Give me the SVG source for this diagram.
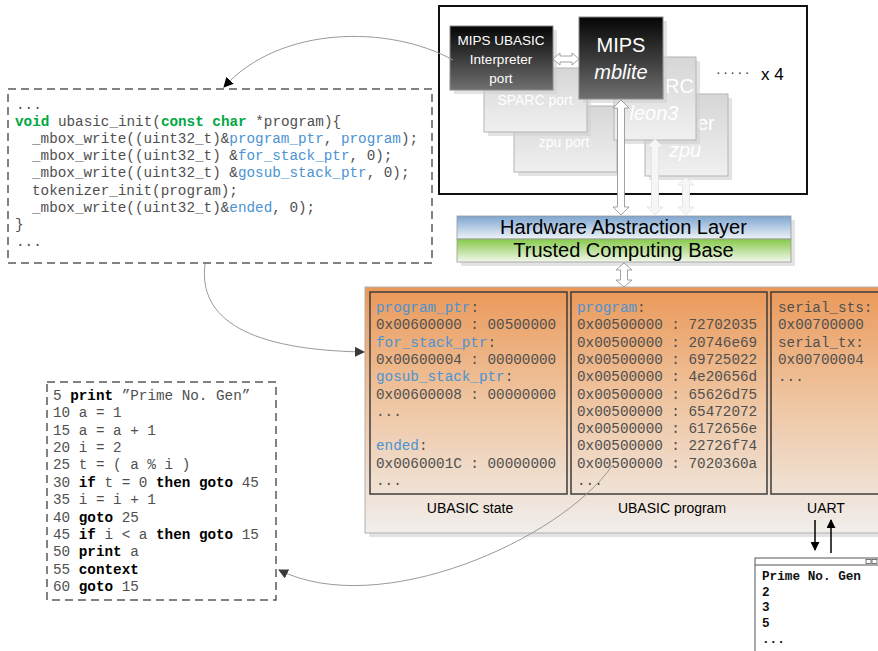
<svg xmlns="http://www.w3.org/2000/svg" width="878" height="651" viewBox="0 0 878 651">
<defs>
<linearGradient id="gDark" x1="0" y1="0" x2="0" y2="1"><stop offset="0" stop-color="#050505"/><stop offset="1" stop-color="#707070"/></linearGradient>
<linearGradient id="gLight" x1="0" y1="0" x2="0" y2="1"><stop offset="0" stop-color="#d6d6d6"/><stop offset="1" stop-color="#f0f0f0"/></linearGradient>
<linearGradient id="gHal" x1="0" y1="0" x2="0" y2="1"><stop offset="0" stop-color="#7ea5d0"/><stop offset="1" stop-color="#eef3f8"/></linearGradient>
<linearGradient id="gTcb" x1="0" y1="0" x2="0" y2="1"><stop offset="0" stop-color="#86c94a"/><stop offset="1" stop-color="#f2f8ec"/></linearGradient>
<linearGradient id="gMem" x1="0" y1="0" x2="0" y2="1"><stop offset="0" stop-color="#ea9858"/><stop offset="0.45" stop-color="#efc49f"/><stop offset="1" stop-color="#f0eeec"/></linearGradient>
<marker id="ahBlack" viewBox="0 0 10 10" refX="9" refY="5" markerWidth="10" markerHeight="10" markerUnits="userSpaceOnUse" orient="auto"><path d="M0,0 L10,5 L0,10 Z" fill="#000"/></marker>
<marker id="ahGray" viewBox="0 0 10 10" refX="9" refY="5" markerWidth="10" markerHeight="10" markerUnits="userSpaceOnUse" orient="auto"><path d="M0,0 L10,5 L0,10 Z" fill="#3a3a3a"/></marker>
<marker id="ahSmall" viewBox="0 0 10 10" refX="9" refY="5" markerWidth="9" markerHeight="9" markerUnits="userSpaceOnUse" orient="auto"><path d="M0,0 L10,5 L0,10 Z" fill="#000"/></marker>
</defs>
<style>
.sans{font-family:"Liberation Sans","Open Sans",sans-serif;}
.mono{font-family:"Liberation Mono","Courier New",monospace;font-size:14.3px;fill:#505050;}
.kwg{fill:#00a843;font-weight:bold;}
.blu{fill:#4b93d3;}
.kwb{fill:#000;font-weight:bold;}
.dash{fill:none;stroke:#5a5a5a;stroke-width:1.5;stroke-dasharray:8 5;}
.shadow{fill:#d0d0d0;opacity:0.6;}
.dark{fill:url(#gDark);stroke:#8a8a8a;stroke-width:1;}
.light{fill:url(#gLight);stroke:#b4b4b4;stroke-width:1;}
.wt{fill:#fff;text-anchor:middle;}
.mbox{fill:none;stroke:#3c3c3c;stroke-width:1.5;}
.lbl{font-size:14px;fill:#000;text-anchor:middle;}
.barrow{fill:#fff;stroke:#8a8a8a;stroke-width:0.8;}
.farrow{fill:#f6f6f6;stroke:#e2e2e2;stroke-width:0.8;}
.conn{fill:none;stroke:#9a9a9a;stroke-width:1;}
</style>

<g id="system">
<rect x="439" y="6" width="368" height="188" fill="#fff" stroke="#111" stroke-width="2"/>
</g>

<g id="zpu-port">
<rect class="shadow" x="518" y="110" width="103" height="66"/>
<rect class="light" x="514" y="106" width="103" height="66"/>
<text class="sans wt" x="564" y="147" font-size="14">zpu port</text>
</g>
<g id="sparc-port">
<rect class="shadow" x="488" y="72" width="103" height="64"/>
<rect class="light" x="484" y="68" width="103" height="64"/>
<text class="sans wt" x="535" y="105" font-size="14">SPARC port</text>
</g>
<g id="mips-port">
<rect class="shadow" x="454" y="30" width="103" height="64"/>
<rect class="dark" x="450" y="26" width="103" height="64"/>
<text class="sans wt" x="501" y="45" font-size="13.5">MIPS UBASIC</text>
<text class="sans wt" x="501" y="64" font-size="13.5">Interpreter</text>
<text class="sans wt" x="501" y="83" font-size="13.5">port</text>
</g>
<g id="zpu-core">
<rect class="shadow" x="649" y="98" width="83" height="82"/>
<rect class="light" x="645" y="94" width="83" height="82"/>
<text class="sans" x="697" y="130" font-size="20" fill="#fff">er</text>
<text class="sans wt" x="685" y="157" font-size="20" font-style="italic">zpu</text>
</g>
<g id="sparc-core">
<rect class="shadow" x="618" y="61" width="82" height="83"/>
<rect class="light" x="614" y="57" width="82" height="83"/>
<text class="sans" x="665" y="93" font-size="20" fill="#fff">RC</text>
<text class="sans wt" x="654" y="120" font-size="20" font-style="italic">leon3</text>
</g>
<g id="mips-core">
<rect class="shadow" x="583" y="21" width="84" height="82"/>
<rect class="dark" x="579" y="17" width="84" height="82"/>
<text class="sans wt" x="621" y="52" font-size="20">MIPS</text>
<text class="sans wt" x="621" y="79" font-size="20" font-style="italic">mblite</text>
</g>
<g id="multiplicity">
<text class="sans" x="716" y="77" font-size="14" fill="#333" letter-spacing="2.5">·····</text>
<text class="sans" x="761" y="80" font-size="17" fill="#000">x 4</text>
</g>

<g id="hal-tcb">
<rect class="shadow" x="461" y="220" width="334" height="46"/>
<rect x="457" y="216" width="334" height="23" fill="url(#gHal)" stroke="#9a9a9a" stroke-width="0.8"/>
<rect x="457" y="239" width="334" height="23" fill="url(#gTcb)" stroke="#9a9a9a" stroke-width="0.8"/>
<text class="sans" x="623.5" y="234" font-size="20" text-anchor="middle" fill="#000">Hardware Abstraction Layer</text>
<text class="sans" x="623.5" y="257" font-size="20" text-anchor="middle" fill="#000">Trusted Computing Base</text>
</g>

<g id="memory">
<rect class="shadow" x="369" y="291" width="520" height="246"/>
<rect x="365" y="287" width="520" height="246" fill="url(#gMem)" stroke="#b0b0b0" stroke-width="1"/>
</g>
<g id="ubasic-state">
<rect class="mbox" x="370" y="292" width="197" height="202"/>
<text class="mono" x="376"><tspan x="376" y="312" class="blu">program_ptr</tspan><tspan>:</tspan><tspan x="376" y="329.3">0x00600000 : 00500000</tspan><tspan x="376" y="346.6" class="blu">for_stack_ptr</tspan><tspan>:</tspan><tspan x="376" y="363.9">0x00600004 : 00000000</tspan><tspan x="376" y="381.2" class="blu">gosub_stack_ptr</tspan><tspan>:</tspan><tspan x="376" y="398.5">0x00600008 : 00000000</tspan><tspan x="376" y="415.8">...</tspan><tspan x="376" y="450.4" class="blu">ended</tspan><tspan>:</tspan><tspan x="376" y="467.7">0x0060001C : 00000000</tspan><tspan x="376" y="485">...</tspan></text>
<text class="sans lbl" x="470" y="513">UBASIC state</text>
</g>
<g id="ubasic-program">
<rect class="mbox" x="571" y="292" width="196" height="202"/>
<text class="mono" x="577"><tspan x="577" y="312" class="blu">program</tspan><tspan>:</tspan><tspan x="577" y="329.3">0x00500000 : 72702035</tspan><tspan x="577" y="346.6">0x00500000 : 20746e69</tspan><tspan x="577" y="363.9">0x00500000 : 69725022</tspan><tspan x="577" y="381.2">0x00500000 : 4e20656d</tspan><tspan x="577" y="398.5">0x00500000 : 65626d75</tspan><tspan x="577" y="415.8">0x00500000 : 65472072</tspan><tspan x="577" y="433.1">0x00500000 : 6172656e</tspan><tspan x="577" y="450.4">0x00500000 : 22726f74</tspan><tspan x="577" y="467.7">0x00500000 : 7020360a</tspan><tspan x="577" y="485">...</tspan></text>
<text class="sans lbl" x="672" y="513">UBASIC program</text>
</g>
<g id="uart">
<rect class="mbox" x="771" y="292" width="120" height="202"/>
<text class="mono" x="778"><tspan x="778" y="312">serial_sts:</tspan><tspan x="778" y="329.3">0x00700000</tspan><tspan x="778" y="346.6">serial_tx:</tspan><tspan x="778" y="363.9">0x00700004</tspan><tspan x="778" y="381.2">...</tspan></text>
<text class="sans lbl" x="826" y="513">UART</text>
</g>

<g id="c-code">
<rect class="dash" x="8" y="89" width="424" height="174"/>
<text class="mono"><tspan x="16" y="108.5">...</tspan><tspan x="15" y="125.7" class="kwg">void</tspan><tspan> ubasic_init(</tspan><tspan class="kwg">const char</tspan><tspan> *program){</tspan><tspan x="32" y="143">_mbox_write((uint32_t)&amp;</tspan><tspan class="blu">program_ptr</tspan><tspan>, </tspan><tspan class="blu">program</tspan><tspan>);</tspan><tspan x="32" y="160.2">_mbox_write((uint32_t) &amp;</tspan><tspan class="blu">for_stack_ptr</tspan><tspan>, 0);</tspan><tspan x="32" y="177.4">_mbox_write((uint32_t) &amp;</tspan><tspan class="blu">gosub_stack_ptr</tspan><tspan>, 0);</tspan><tspan x="32" y="194.6">tokenizer_init(program);</tspan><tspan x="32" y="211.8">_mbox_write((uint32_t)&amp;</tspan><tspan class="blu">ended</tspan><tspan>, 0);</tspan><tspan x="15" y="229">}</tspan><tspan x="16" y="246.2">...</tspan></text>
</g>

<g id="basic-code">
<rect class="dash" x="47" y="382" width="229" height="218"/>
<text class="mono"><tspan x="53" y="400">5 </tspan><tspan class="kwb">print</tspan><tspan> ”Prime No. Gen”</tspan><tspan x="53" y="417.4">10 a = 1</tspan><tspan x="53" y="434.7">15 a = a + 1</tspan><tspan x="53" y="452.1">20 i = 2</tspan><tspan x="53" y="469.4">25 t = ( a % i )</tspan><tspan x="53" y="486.8">30 </tspan><tspan class="kwb">if</tspan><tspan> t = 0 </tspan><tspan class="kwb">then goto</tspan><tspan> 45</tspan><tspan x="53" y="504.1">35 i = i + 1</tspan><tspan x="53" y="521.5">40 </tspan><tspan class="kwb">goto</tspan><tspan> 25</tspan><tspan x="53" y="538.8">45 </tspan><tspan class="kwb">if</tspan><tspan> i &lt; a </tspan><tspan class="kwb">then goto</tspan><tspan> 15</tspan><tspan x="53" y="556.2">50 </tspan><tspan class="kwb">print</tspan><tspan> a</tspan><tspan x="53" y="573.5">55 </tspan><tspan class="kwb">context</tspan><tspan x="53" y="590.9">60 </tspan><tspan class="kwb">goto</tspan><tspan> 15</tspan></text>
</g>

<g id="terminal">
<rect x="755" y="558" width="130" height="100" fill="#fff" stroke="#555" stroke-width="1"/>
<line x1="755" y1="565" x2="885" y2="565" stroke="#555" stroke-width="1"/>
<rect x="866" y="559.5" width="5" height="4" fill="none" stroke="#555" stroke-width="0.8"/>
<rect x="872" y="559.5" width="5" height="4" fill="none" stroke="#555" stroke-width="0.8"/>
<text style="font-family:'Liberation Mono','Courier New',monospace;font-size:12.7px;font-weight:bold;fill:#111;"><tspan x="762" y="580">Prime No. Gen</tspan><tspan x="762" y="595.7">2</tspan><tspan x="762" y="611.3">3</tspan><tspan x="762" y="627">5</tspan><tspan x="762" y="642.7">...</tspan></text>
</g>

<g id="connectors">
<path class="farrow" d="M655,139 L663,147 L658.5,147 L658.5,207 L663,207 L655,215 L647,207 L651.5,207 L651.5,147 L647,147 Z"/>
<path class="farrow" d="M686,177 L694,185 L689.5,185 L689.5,207 L694,207 L686,215 L678,207 L682.5,207 L682.5,185 L678,185 Z"/>
<path class="barrow" d="M621,100 L629,108 L624.5,108 L624.5,207 L629,207 L621,215 L613,207 L617.5,207 L617.5,108 L613,108 Z"/>
<path class="barrow" d="M553,59 L560,53 L560,56 L572,56 L572,53 L579,59 L572,65 L572,62 L560,62 L560,65 Z"/>
<path class="barrow" d="M624,263 L632,270 L627.5,270 L627.5,280 L632,280 L624,287 L616,280 L620.5,280 L620.5,270 L616,270 Z"/>
<path class="conn" d="M453,60 C390,25 280,25 224,87" marker-end="url(#ahBlack)"/>
<path class="conn" d="M205,264 C198,320 250,350 364,352" marker-end="url(#ahGray)"/>
<path class="conn" d="M612,466 C560,540 380,620 279,570" marker-end="url(#ahGray)"/>
<line x1="815" y1="520" x2="815" y2="550" stroke="#000" stroke-width="1.5" marker-end="url(#ahSmall)"/>
<line x1="831" y1="553" x2="831" y2="520" stroke="#000" stroke-width="1.5" marker-end="url(#ahSmall)"/>
</g>
</svg>
